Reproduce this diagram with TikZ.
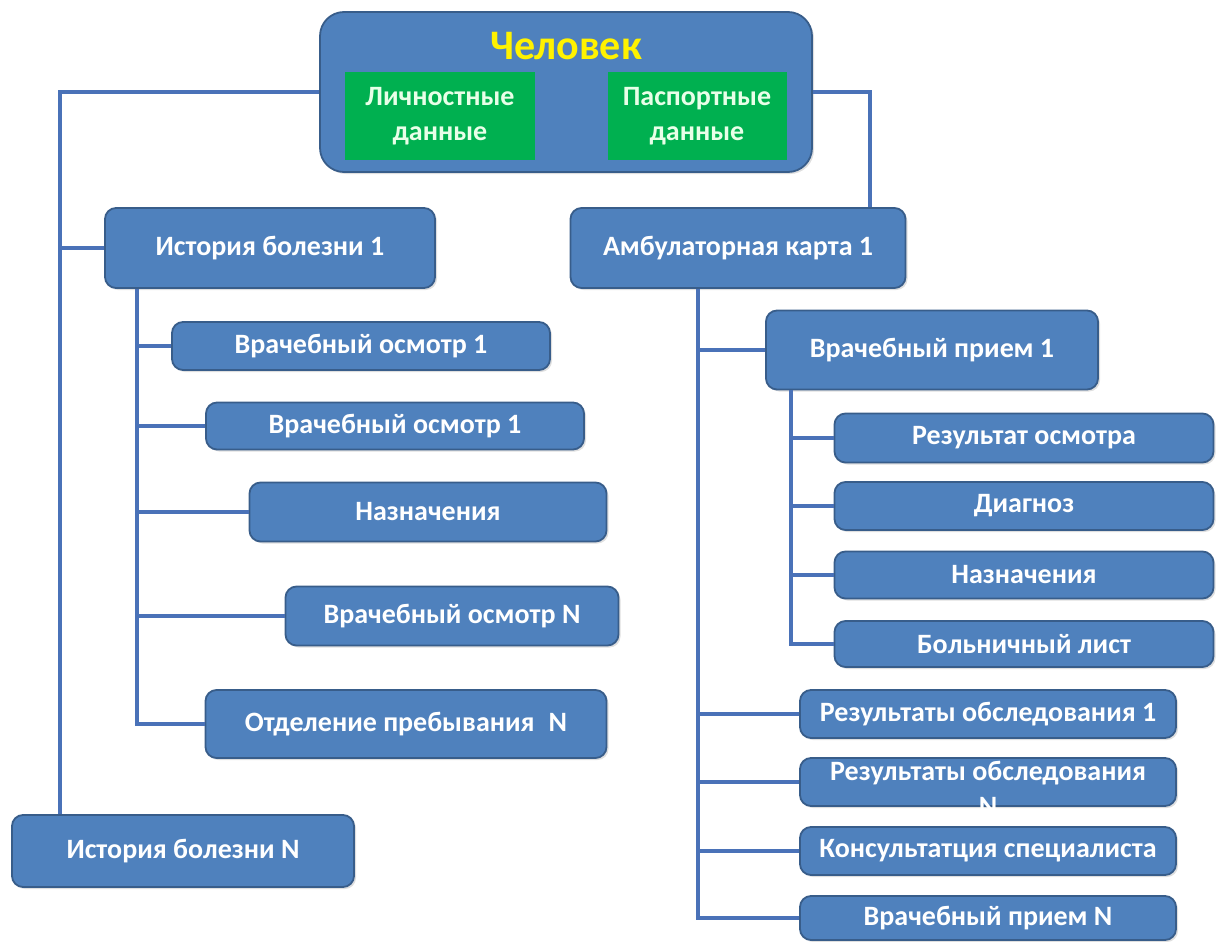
\documentclass[tikz,border=0pt]{standalone}
\usepackage{fontspec}
\setmainfont{Carlito}
\usetikzlibrary{shadows}

\definecolor{boxblue}{HTML}{4F81BD}
\definecolor{boxedge}{HTML}{385D8A}
\definecolor{linkblue}{HTML}{4A72B8}
\definecolor{datagreen}{HTML}{00B050}
\definecolor{datatext}{HTML}{E8FFE8}

\tikzset{
  box/.style={draw=boxedge, line width=1.8pt, fill=boxblue, rounded corners=11pt,
    text=white, font=\fontsize{28}{34}\selectfont\bfseries, align=center,
    drop shadow={shadow xshift=2pt, shadow yshift=-2pt, opacity=0.25}},
  databox/.style={fill=datagreen, text=datatext, align=center,
    minimum width=190pt, minimum height=88pt, font=\fontsize{28}{35}\selectfont\bfseries},
  link/.style={draw=linkblue, line width=3.4pt}
}

\begin{document}
\begin{tikzpicture}[x=1pt, y=-1pt]
    \useasboundingbox (0,0) rectangle (1221,942);

    % стволы линий
    \coordinate (trunkL) at (60,0);
    \coordinate (trunkR) at (870,0);
    \coordinate (ibSpine) at (137,0);
    \coordinate (akSpine) at (698,0);
    \coordinate (vpSpine) at (791,0);

    % верхний блок
    \node[box, rounded corners=24pt, minimum width=492pt, minimum height=160pt] (chel) at (566,92) {};
    \node[font=\fontsize{42}{46}\selectfont\bfseries, text=yellow] (title) at (566,46) {Человек};
    \node[databox] (lich) at (440,116) {Личностные\\данные};
    \node[databox, minimum width=179pt] (pasp) at (697,116) {Паспортные\\данные};

    % история болезни
    \node[box, minimum width=330pt, minimum height=80pt] (ib1) at (270,248) {История болезни 1};
    \node[box, minimum width=378pt, minimum height=48pt] (vo1) at (361,346) {Врачебный осмотр 1};
    \node[box, minimum width=378pt, minimum height=47pt] (vo2) at (395,426) {Врачебный осмотр 1};
    \node[box, minimum width=357pt, minimum height=59pt] (nazn) at (428,512) {Назначения};
    \node[box, minimum width=333pt, minimum height=59pt] (voN) at (452,616) {Врачебный осмотр N};
    \node[box, minimum width=401pt, minimum height=68pt] (otd) at (406,724) {Отделение пребывания\enspace N};
    \node[box, minimum width=342pt, minimum height=72pt] (ibN) at (183,851) {История болезни N};

    % амбулаторная карта
    \node[box, minimum width=335pt, minimum height=80pt] (ak1) at (738,248) {Амбулаторная карта 1};
    \node[box, minimum width=332pt, minimum height=79pt] (vp1) at (932,350) {Врачебный прием 1};
    \node[box, minimum width=379pt, minimum height=49pt] (res) at (1024,438) {Результат осмотра};
    \node[box, minimum width=379pt, minimum height=48pt] (diag) at (1024,506) {Диагноз};
    \node[box, minimum width=379pt, minimum height=47pt] (naznA) at (1024,575) {Назначения};
    \node[box, minimum width=379pt, minimum height=46pt] (boln) at (1024,644) {Больничный лист};
    \node[box, minimum width=376pt, minimum height=48pt] (ro1) at (988,714) {Результаты обследования 1};
    \node[box, minimum width=376pt, minimum height=48pt] (roN) at (988,782) {};
    \node[text=white, font=\fontsize{28}{35}\selectfont\bfseries, align=center] (roNtext) at (988,788) {Результаты обследования\\N};
    \node[box, minimum width=376pt, minimum height=48pt] (kons) at (988,851) {Консультатция специалиста};
    \node[box, minimum width=376pt, minimum height=44pt] (vpN) at (988,918) {Врачебный прием N};

    % связи от верхнего блока
    \draw[link] (chel.west) -| (trunkL |- ibN.north);
    \draw[link] (trunkL |- ib1.west) -- (ib1.west);
    \draw[link] (chel.east) -| (trunkR |- ak1.north);

    % ветви истории болезни
    \draw[link] (ibSpine |- ib1.south) |- (otd.west);
    \foreach \n in {vo1,vo2,nazn,voN}
        \draw[link] (ibSpine |- \n.west) -- (\n.west);

    % ветви амбулаторной карты
    \draw[link] (akSpine |- ak1.south) |- (vpN.west);
    \foreach \n in {vp1,ro1,roN,kons}
        \draw[link] (akSpine |- \n.west) -- (\n.west);

    % ветви врачебного приема
    \draw[link] (vpSpine |- vp1.south) |- (boln.west);
    \foreach \n in {res,diag,naznA}
        \draw[link] (vpSpine |- \n.west) -- (\n.west);
\end{tikzpicture}
\end{document}
